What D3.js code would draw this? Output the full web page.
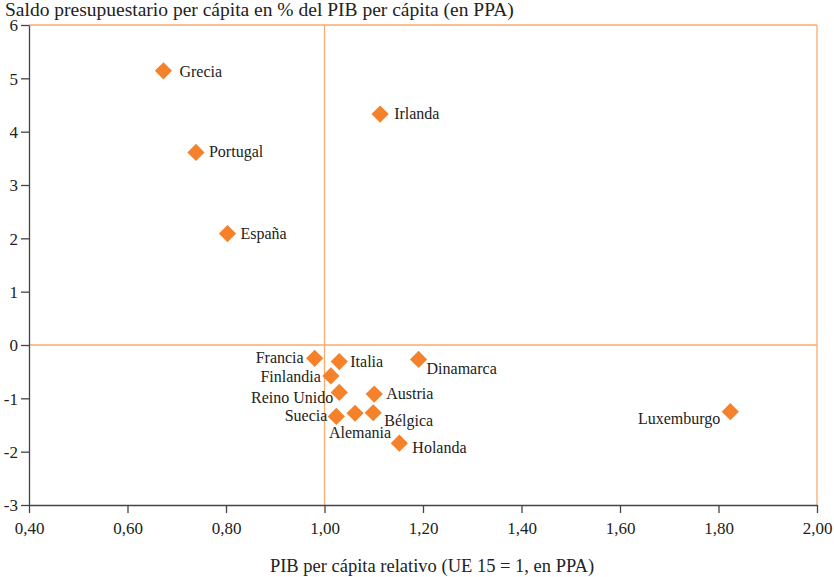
<!DOCTYPE html>
<html>
<head>
<meta charset="utf-8">
<script src="https://cdn.jsdelivr.net/npm/d3@7"></script>
<style>
  body { margin: 0; background: #fff; }
  svg text { font-family: "Liberation Serif", "DejaVu Serif", "Times New Roman", serif; fill: #222; }
</style>
</head>
<body>
<div id="chart"></div>
<script>
// data
var countries = ["Grecia", "Portugal", "España", "Irlanda", "Francia", "Italia", "Dinamarca",
  "Finlandia", "Reino Unido", "Austria", "Suecia", "Alemania", "Bélgica", "Holanda", "Luxemburgo"];
var pibRelativo = [0.673, 0.739, 0.803, 1.113, 0.980, 1.030, 1.191,
  1.013, 1.030, 1.101, 1.024, 1.062, 1.099, 1.152, 1.824];
var saldo = [5.14, 3.61, 2.09, 4.33, -0.25, -0.31, -0.27,
  -0.58, -0.89, -0.92, -1.34, -1.28, -1.27, -1.84, -1.25];
var xTicks = [0.4, 0.6, 0.8, 1.0, 1.2, 1.4, 1.6, 1.8, 2.0];
var yTicks = [-3, -2, -1, 0, 1, 2, 3, 4, 5, 6];

// label placement [dx, dy, anchor]
var labelPos = [[16, 6, "start"], [13, 5, "start"], [13, 5, "start"], [14, 5, "start"],
  [-11, 5, "end"], [11, 5, "start"], [8, 15, "start"], [-10, 6, "end"], [-6, 11, "end"],
  [12, 5, "start"], [-9, 5, "end"], [5, 25, "middle"], [11, 13, "start"], [13, 10, "start"],
  [-10, 12, "end"]];

var width = 834, height = 577;
var margin = {top: 25, right: 17, bottom: 72, left: 29};

var svg = d3.select("#chart").append("svg")
    .attr("width", width)
    .attr("height", height);

var x = d3.scaleLinear().domain([0.4, 2.0]).range([margin.left, width - margin.right]);
var y = d3.scaleLinear().domain([-3, 6]).range([height - margin.bottom, margin.top]);

var orangeLine = "#f9ab70";

// frame and reference lines
svg.append("line")
    .attr("x1", x(0.4)).attr("x2", x(2.0))
    .attr("y1", y(6)).attr("y2", y(6))
    .attr("stroke", orangeLine).attr("stroke-width", 1.3);
svg.append("line")
    .attr("x1", x(2.0)).attr("x2", x(2.0))
    .attr("y1", y(6)).attr("y2", y(-3))
    .attr("stroke", orangeLine).attr("stroke-width", 1.3);
svg.append("line")
    .attr("x1", x(1.0)).attr("x2", x(1.0))
    .attr("y1", y(6)).attr("y2", y(-3))
    .attr("stroke", orangeLine).attr("stroke-width", 1.3);
svg.append("line")
    .attr("x1", x(0.4)).attr("x2", x(2.0))
    .attr("y1", y(0)).attr("y2", y(0))
    .attr("stroke", orangeLine).attr("stroke-width", 1.3);

var fmt = function(d) { return d3.format(".2f")(d).replace(".", ","); };

var xAxis = svg.append("g")
    .attr("transform", "translate(0," + y(-3) + ")")
    .call(d3.axisBottom(x).tickValues(xTicks).tickFormat(fmt).tickSize(8).tickSizeOuter(0));
var yAxis = svg.append("g")
    .attr("transform", "translate(" + x(0.4) + ",0)")
    .call(d3.axisLeft(y).tickValues(yTicks).tickFormat(d3.format("d")).tickSize(8).tickSizeOuter(0));

[xAxis, yAxis].forEach(function(a) {
  a.attr("font-family", null).attr("font-size", null);
  a.select(".domain").attr("stroke", "#444").attr("stroke-width", 1.3);
  a.selectAll(".tick line").attr("stroke", "#444").attr("stroke-width", 1.3);
  a.selectAll(".tick text")
    .style("font-size", "17px")
    .attr("fill", "#222");
});
xAxis.selectAll(".tick text").attr("y", 14).attr("dy", "0.9em");
yAxis.selectAll(".tick text").attr("x", -11).attr("dy", "0.35em")
    .text(function(d) { return d < 0 ? "-" + Math.abs(d) : d; });

// titles
svg.append("text")
    .attr("x", 5).attr("y", 16)
    .style("font-size", "19.5px")
    .text("Saldo presupuestario per cápita en % del PIB per cápita (en PPA)");
svg.append("text")
    .attr("x", 432).attr("y", 572)
    .attr("text-anchor", "middle")
    .style("font-size", "18.5px")
    .text("PIB per cápita relativo (UE 15 = 1, en PPA)");

// points
var pts = svg.append("g").selectAll("g")
  .data(countries)
  .enter().append("g")
    .attr("transform", function(d, i) { return "translate(" + x(pibRelativo[i]) + "," + y(saldo[i]) + ")"; });

pts.append("path")
    .attr("d", d3.symbol().type(d3.symbolSquare).size(148))
    .attr("transform", "rotate(45)")
    .attr("fill", "#f5822a");

pts.append("text")
    .attr("x", function(d, i) { return labelPos[i][0]; })
    .attr("y", function(d, i) { return labelPos[i][1]; })
    .attr("text-anchor", function(d, i) { return labelPos[i][2]; })
    .style("font-size", "16px")
    .text(function(d) { return d; });
</script>
</body>
</html>
